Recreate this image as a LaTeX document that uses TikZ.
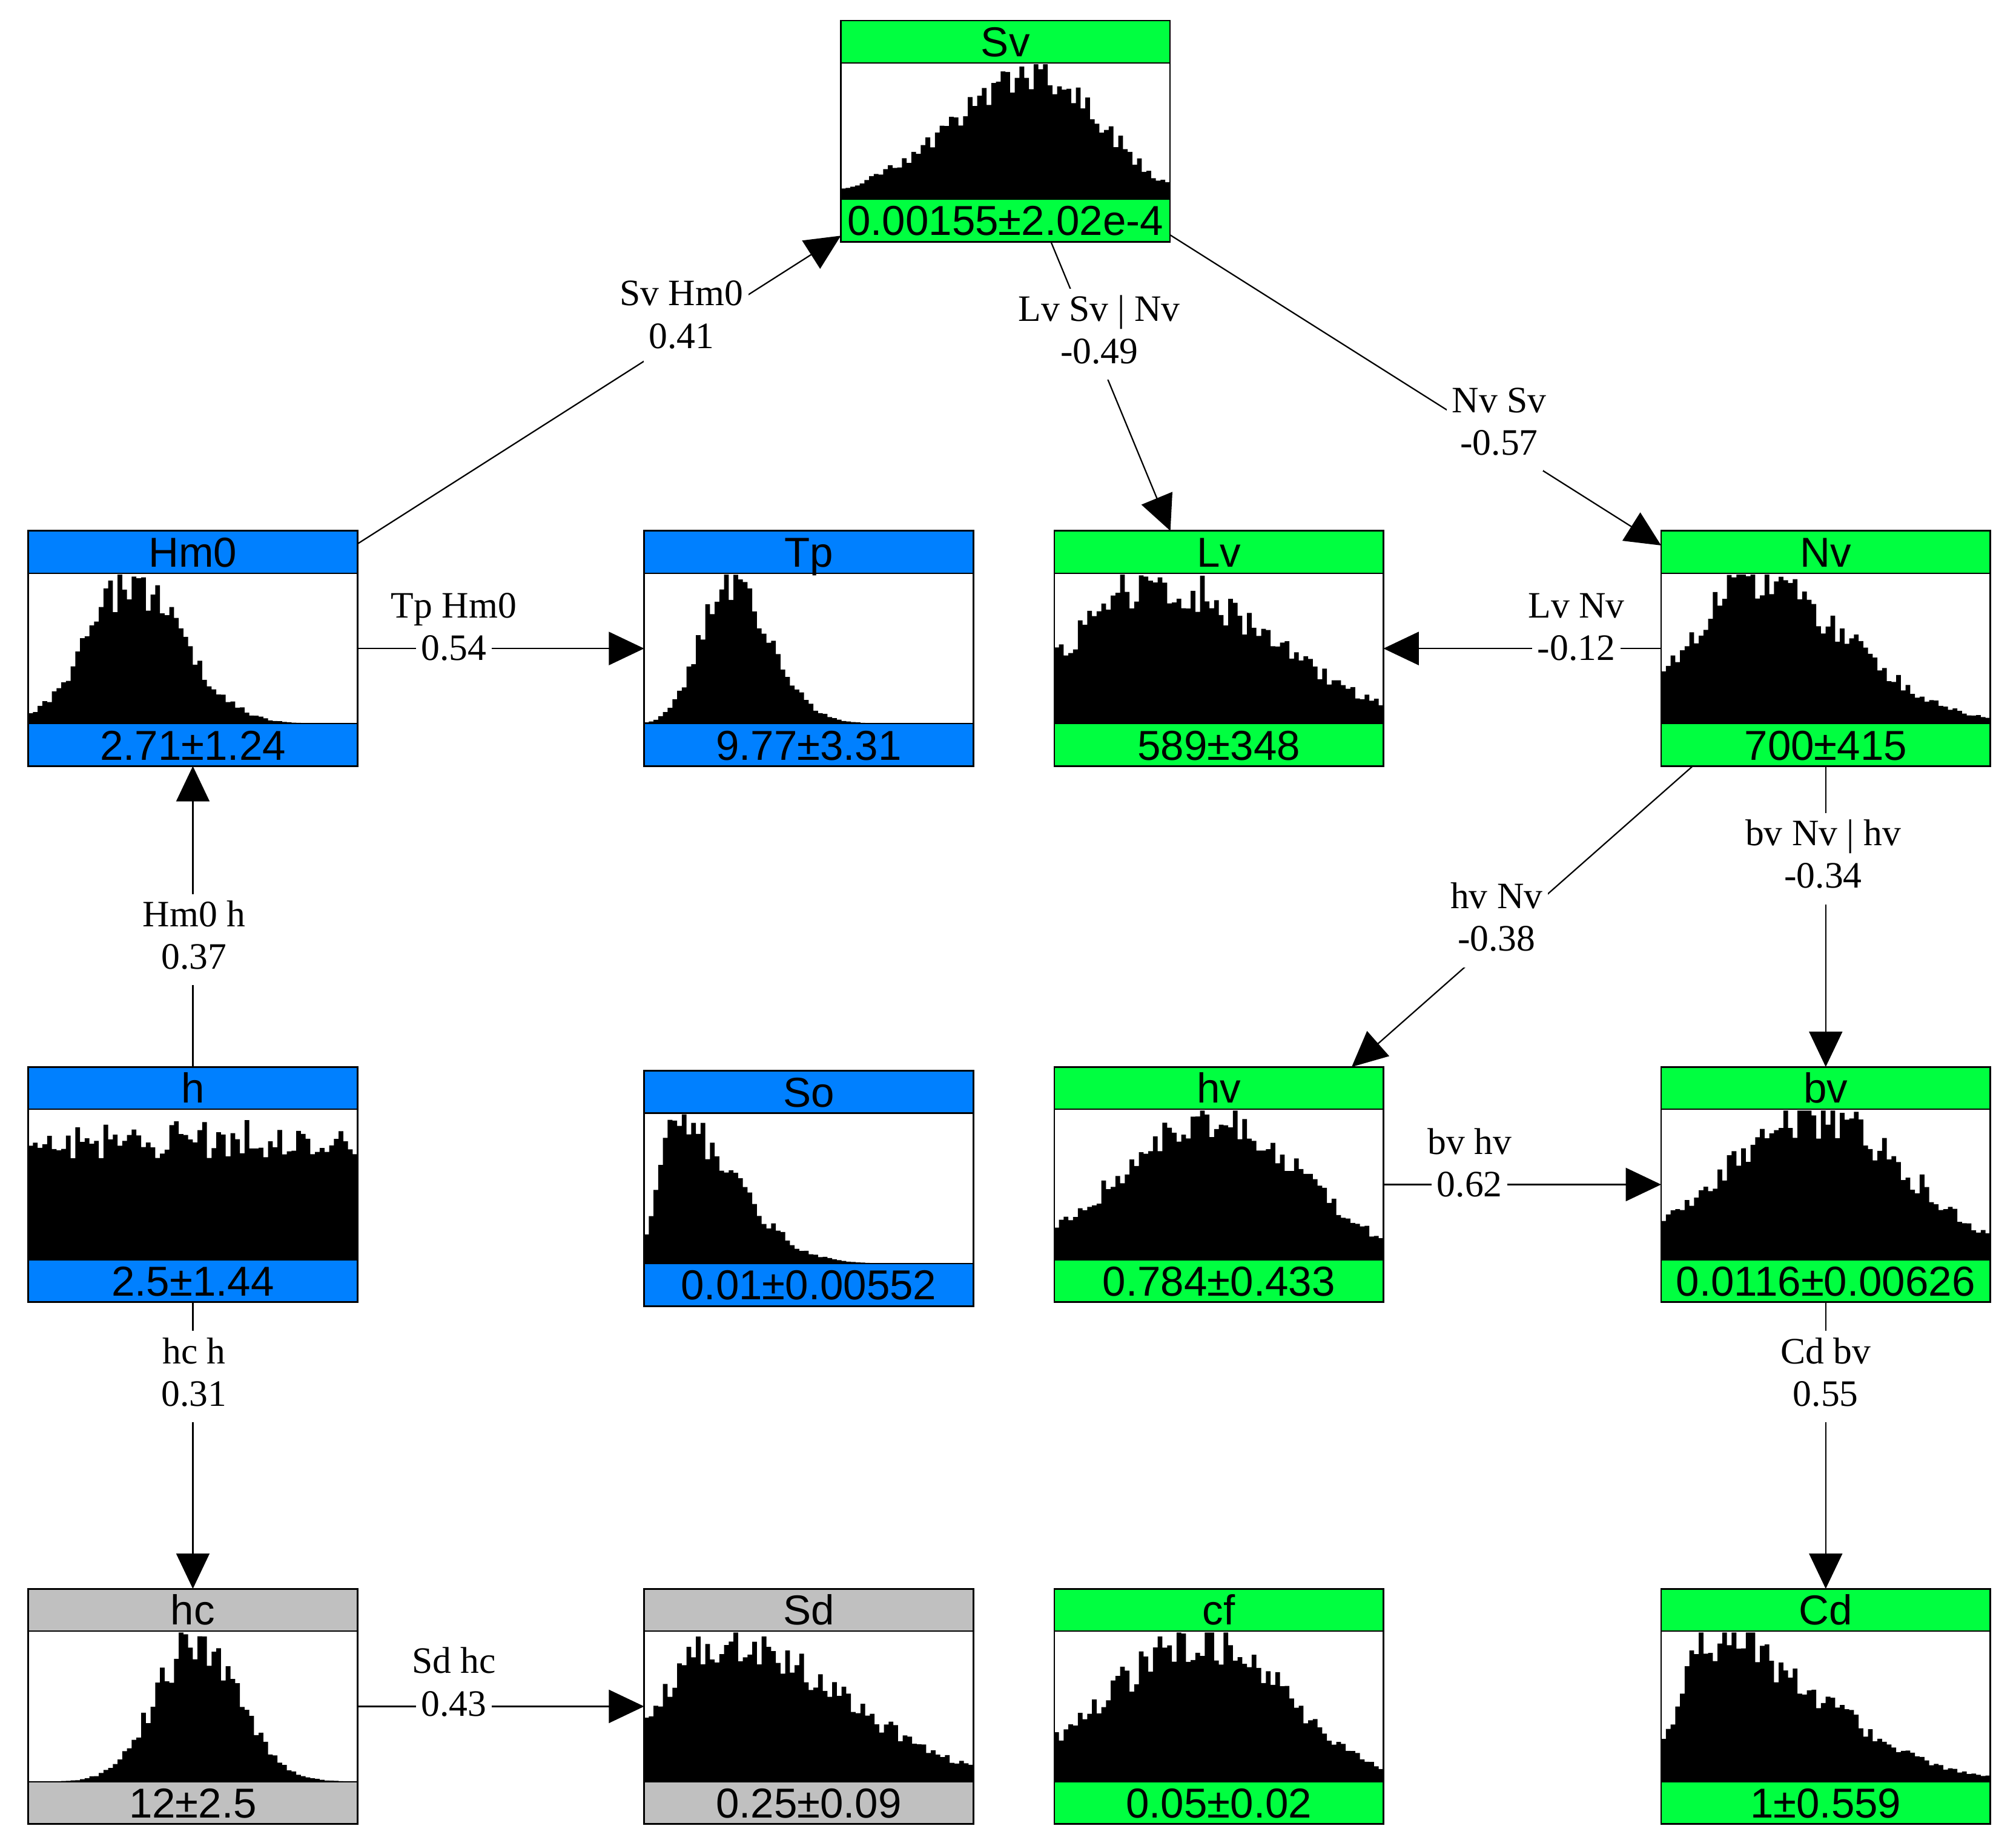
\documentclass[tikz,border=0pt]{standalone}
\usepackage{fontspec}
\setmainfont{Liberation Serif}
\newfontfamily\arialfont{Liberation Sans}
\usetikzlibrary{arrows.meta}

\definecolor{varblue}{RGB}{0,128,255}
\definecolor{vargreen}{RGB}{0,255,64}
\definecolor{vargray}{RGB}{192,192,192}

\newcommand{\labfont}{\fontsize{21.75}{24.75}\selectfont\lineskiplimit=-50pt\relax}
\newcommand{\valfont}{\arialfont\fontsize{24.4}{28}\selectfont}
\setlength{\fboxsep}{3pt}
\newcommand{\wb}[1]{\colorbox{white}{\vrule height 16pt depth 6.5pt width 0pt#1}}

\tikzset{every picture/.style={line width=0.8pt}}
\tikzset{
  varbox/.style={draw, line width=1pt, inner sep=0pt, outer sep=0pt, minimum width=192pt},
  boxtext/.style={font=\valfont, inner sep=0pt, text height=17.5pt, text depth=0pt},
  link/.style={-{Triangle[length=20.6pt,width=19.4pt]}},
  elabel/.style={font=\labfont, align=center, inner sep=0pt},
  declare function={skn(\pa,\pb,\pc,\pd)=exp(-min(9,0.5*((\pa-\pb)/(\pc*(\pa<\pb)+\pd*(\pa>=\pb)))*((\pa-\pb)/(\pc*(\pa<\pb)+\pd*(\pa>=\pb)))));}
}

% name, left, top, height, colour, title, value, histogram profile in \x
\newcommand{\distbox}[8]{%
  \fill[#5] (#2,#3) rectangle (#2+256,#3+33);
  \fill[#5] (#2,#3+#4-33) rectangle (#2+256,#3+#4);
  \fill (#2,#3+#4-33) -- plot[const plot, domain=0:1, samples=71]
    ({#2+256*\x},{#3+#4-33-min(#4-67,(#4-74)*(#8)*(1+0.16*rand))}) -- (#2+256,#3+#4-33) -- cycle;
  \draw (#2,#3+33) -- (#2+256,#3+33) (#2,#3+#4-33) -- (#2+256,#3+#4-33);
  \node[varbox, minimum height=#4*0.75pt] (#1) at (#2+128,#3+#4/2) {};
  \node[boxtext] (#1-title) at (#2+128,#3+16.5) {#6};
  \node[boxtext] (#1-value) at (#2+128,#3+#4-16.5) {#7};
}

\begin{document}
\begin{tikzpicture}[x=0.75pt,y=0.75pt,yscale=-1,xscale=1]
\useasboundingbox (0,0) rectangle (1568,1436);
\pgfmathsetseed{11}

%Shape: top row
\distbox{Sv}{654}{16}{172}{vargreen}{Sv}{0.00155±2.02e-4}{skn(\x,0.6,0.27,0.19)}
%Shape: second row
\distbox{Hm0}{22}{413}{183}{varblue}{Hm0}{2.71±1.24}{skn(\x,0.3,0.13,0.16)}
\distbox{Tp}{501}{413}{183}{varblue}{Tp}{9.77±3.31}{skn(\x,0.24,0.08,0.13)}
\distbox{Lv}{820}{413}{183}{vargreen}{Lv}{589±348}{skn(\x,0.3,0.25,0.35)}
\distbox{Nv}{1292}{413}{183}{vargreen}{Nv}{700±415}{skn(\x,0.28,0.2,0.28)}
%Shape: third row
\distbox{h}{22}{830}{183}{varblue}{h}{2.5±1.44}{0.86}
\distbox{So}{501}{833}{183}{varblue}{So}{0.01±0.00552}{skn(\x,0.09,0.05,0.18)}
\distbox{hv}{820}{830}{183}{vargreen}{hv}{0.784±0.433}{skn(\x,0.5,0.3,0.25)}
\distbox{bv}{1292}{830}{183}{vargreen}{bv}{0.0116±0.00626}{skn(\x,0.48,0.3,0.27)}
%Shape: bottom row
\distbox{hc}{22}{1236}{183}{vargray}{hc}{12±2.5}{skn(\x,0.5,0.12,0.13)}
\distbox{Sd}{501}{1236}{183}{vargray}{Sd}{0.25±0.09}{skn(\x,0.25,0.2,0.35)}
\distbox{cf}{820}{1236}{183}{vargreen}{cf}{0.05±0.02}{skn(\x,0.45,0.3,0.25)}
\distbox{Cd}{1292}{1236}{183}{vargreen}{Cd}{1±0.559}{skn(\x,0.15,0.1,0.33)}

%Straight Lines
\draw[link] (Hm0) -- (Sv);
\draw[link] (Sv) -- (Lv);
\draw[link] (Sv) -- (Nv);
\draw[link] (Hm0) -- (Tp);
\draw[link] (Nv) -- (Lv);
\draw[link] (h) -- (Hm0);
\draw[link] (Nv) -- (hv);
\draw[link] (Nv) -- (bv);
\draw[link] (hv) -- (bv);
\draw[link] (h) -- (hc);
\draw[link] (bv) -- (Cd);
\draw[link] (hc) -- (Sd);

% Text Node
\node[elabel] (l-SvHm0) at (530,248) {\wb{Sv Hm0}\\\wb{0.41}};
% Text Node
\node[elabel] (l-LvSv) at (855,260) {\wb{Lv Sv | Nv}\\\wb{-0.49}};
% Text Node
\node[elabel] (l-NvSv) at (1166,331) {\wb{Nv Sv}\\\wb{-0.57}};
% Text Node
\node[elabel] (l-TpHm0) at (353,491) {\wb{Tp Hm0}\\\wb{0.54}};
% Text Node
\node[elabel] (l-LvNv) at (1226,491) {\wb{Lv Nv}\\\wb{-0.12}};
% Text Node
\node[elabel] (l-Hm0h) at (151,731) {\wb{Hm0 h}\\\wb{0.37}};
% Text Node
\node[elabel] (l-hvNv) at (1164,717) {\wb{hv Nv}\\\wb{-0.38}};
% Text Node
\node[elabel] (l-bvNv) at (1418,668) {\wb{bv Nv | hv}\\\wb{-0.34}};
% Text Node
\node[elabel] (l-bvhv) at (1143,908) {\wb{bv hv}\\\wb{0.62}};
% Text Node
\node[elabel] (l-hch) at (151,1071) {\wb{hc h}\\\wb{0.31}};
% Text Node
\node[elabel] (l-Cdbv) at (1420,1071) {\wb{Cd bv}\\\wb{0.55}};
% Text Node
\node[elabel] (l-Sdhc) at (353,1312) {\wb{Sd hc}\\\wb{0.43}};

\end{tikzpicture}
\end{document}
